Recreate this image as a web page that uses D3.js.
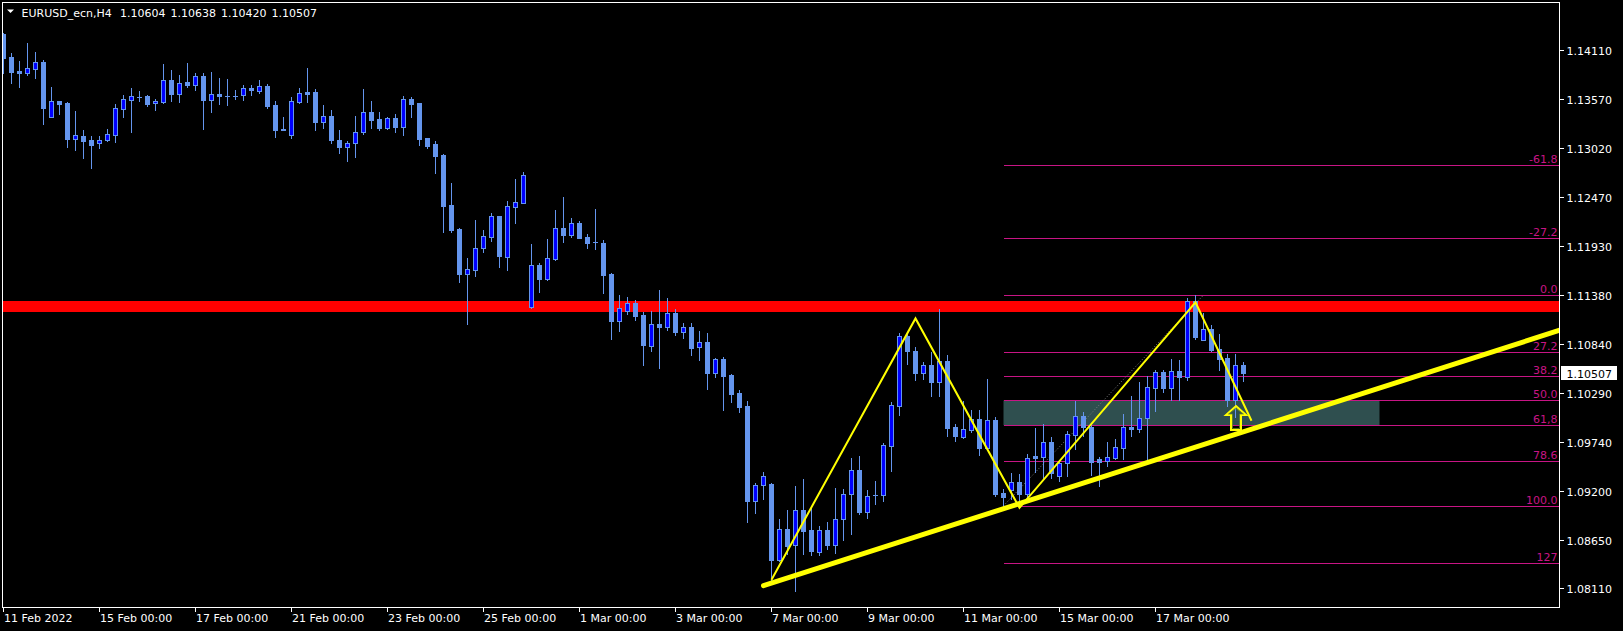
<!DOCTYPE html>
<html><head><meta charset="utf-8">
<script src="https://cdn.jsdelivr.net/npm/d3@7"></script>
<style>html,body{margin:0;padding:0;background:#000;overflow:hidden}svg{display:block}</style>
</head><body>
<svg id="chart" width="1623" height="631"></svg>
<script>
// ---- data (EURUSD_ecn H4, bar index 0 = 11 Feb 2022 00:00) ----
const opens = [1.14295,1.14035,1.13881,1.13860,1.13907,1.13980,1.13369,1.13544,1.13527,1.13126,1.13156,1.13109,1.13071,1.13105,1.13169,1.13459,1.13561,1.13587,1.13600,1.13519,
1.13536,1.13779,1.13625,1.13762,1.13728,1.13822,1.13561,1.13625,1.13600,1.13598,1.13608,1.13689,1.13660,1.13711,1.13502,1.13226,1.13160,1.13536,1.13647,1.13647,
1.13305,1.13378,1.13109,1.13036,1.13071,1.13203,1.13420,1.13344,1.13246,1.13356,1.13258,1.13566,1.13523,1.13130,1.13066,1.12947,1.12383,1.12119,1.11619,1.11662,
1.11901,1.12033,1.12264,1.11807,1.12366,1.12409,1.11248,1.11713,1.11560,1.11782,1.12127,1.12055,1.12183,1.12029,1.11967,1.11961,1.11615,1.11094,1.11197,1.11291,
1.11163,1.10817,1.11056,1.11026,1.11180,1.10971,1.11022,1.10796,1.10860,1.10514,1.10668,1.10488,1.10288,1.10147,1.09088,1.09259,1.09272,1.08431,1.08768,1.08589,
1.08982,1.08760,1.08512,1.08760,1.08598,1.08879,1.09157,1.09430,1.08965,1.09150,1.09153,1.09699,1.10147,1.10924,1.10753,1.10514,1.10595,1.10416,1.10642,1.09904,
1.09801,1.09874,1.09998,1.09677,1.09985,1.09174,1.09208,1.09293,1.09165,1.09584,1.09579,1.09737,1.09366,1.09507,1.09818,1.10036,1.09912,1.09549,1.09532,1.09567,
1.09677,1.09912,1.09891,1.10006,1.10348,1.10523,1.10348,1.10531,1.10463,1.11312,1.10881,1.11001,1.10779,1.10676,1.10211,1.10604];
const highs = [1.14308,1.14078,1.13992,1.14193,1.14091,1.14001,1.13702,1.13548,1.13536,1.13433,1.13220,1.13156,1.13156,1.13233,1.13510,1.13613,1.13689,1.13655,1.13608,1.13566,
1.13958,1.13890,1.13834,1.13967,1.13852,1.13856,1.13869,1.13800,1.13792,1.13672,1.13724,1.13724,1.13779,1.13732,1.13540,1.13365,1.13591,1.13689,1.13911,1.13677,
1.13502,1.13446,1.13216,1.13100,1.13382,1.13677,1.13544,1.13420,1.13365,1.13403,1.13600,1.13591,1.13523,1.13130,1.13100,1.12955,1.12631,1.12127,1.11794,1.12217,
1.12110,1.12298,1.12264,1.12430,1.12674,1.12755,1.11948,1.11743,1.12004,1.12328,1.12473,1.12238,1.12204,1.12059,1.12341,1.11995,1.11628,1.11380,1.11359,1.11325,
1.11193,1.11201,1.11436,1.11346,1.11222,1.11073,1.11069,1.10979,1.10958,1.10680,1.10689,1.10505,1.10322,1.10198,1.09285,1.09409,1.09285,1.08888,1.08982,1.09251,
1.09332,1.09003,1.08802,1.08849,1.09229,1.09217,1.09558,1.09584,1.09204,1.09302,1.09733,1.10185,1.10958,1.10958,1.10796,1.10629,1.10740,1.11222,1.10710,1.09946,
1.10194,1.10104,1.10100,1.10446,1.10019,1.09221,1.09396,1.09387,1.09609,1.09899,1.09942,1.09801,1.09537,1.09861,1.10202,1.10074,1.09942,1.09579,1.09742,1.09776,
1.10057,1.10254,1.10416,1.10476,1.10540,1.10540,1.10672,1.10659,1.11346,1.11380,1.11180,1.11043,1.10945,1.10723,1.10723,1.10638];
const lows = [1.13860,1.13745,1.13702,1.13839,1.13800,1.13288,1.13365,1.13399,1.13032,1.12998,1.12913,1.12802,1.13015,1.13100,1.13088,1.13361,1.13199,1.13549,1.13489,1.13446,
1.13527,1.13544,1.13531,1.13702,1.13668,1.13233,1.13425,1.13510,1.13502,1.13570,1.13561,1.13617,1.13638,1.13472,1.13147,1.13216,1.13135,1.13527,1.13531,1.13216,
1.13246,1.13071,1.12968,1.12878,1.12925,1.13177,1.13241,1.13224,1.13237,1.13199,1.13160,1.13369,1.13053,1.13015,1.12746,1.12089,1.12089,1.11530,1.11060,1.11598,
1.11863,1.11982,1.11696,1.11662,1.12187,1.12405,1.11235,1.11419,1.11543,1.11773,1.11974,1.12029,1.12018,1.11910,1.11897,1.11406,1.10890,1.10979,1.11171,1.11103,
1.10595,1.10762,1.10565,1.10996,1.10936,1.10907,1.10715,1.10651,1.10330,1.10471,1.10104,1.10190,1.10079,1.08854,1.08952,1.09101,1.08205,1.08418,1.08495,1.08080,
1.08495,1.08482,1.08482,1.08551,1.08504,1.08653,1.08717,1.08943,1.08896,1.09054,1.09088,1.09413,1.10045,1.10616,1.10437,1.10446,1.10258,1.10258,1.09805,1.09754,
1.09784,1.09857,1.09601,1.09669,1.09135,1.09030,1.09101,1.09080,1.09123,1.09404,1.09336,1.09336,1.09302,1.09366,1.09669,1.09805,1.09379,1.09251,1.09473,1.09554,
1.09549,1.09805,1.09857,1.09528,1.10083,1.10296,1.10211,1.10211,1.10437,1.10894,1.10881,1.10757,1.10544,1.10147,1.10019,1.10420];
const closes = [1.14022,1.13873,1.13860,1.13911,1.13980,1.13467,1.13544,1.13514,1.13126,1.13164,1.13100,1.13058,1.13109,1.13177,1.13467,1.13566,1.13600,1.13585,1.13510,1.13544,
1.13779,1.13625,1.13745,1.13724,1.13822,1.13557,1.13621,1.13600,1.13598,1.13602,1.13689,1.13664,1.13711,1.13489,1.13224,1.13229,1.13540,1.13634,1.13625,1.13305,
1.13374,1.13113,1.13036,1.13075,1.13194,1.13420,1.13335,1.13246,1.13356,1.13254,1.13566,1.13514,1.13126,1.13045,1.12934,1.12379,1.12106,1.11619,1.11671,1.11901,
1.12038,1.12264,1.11820,1.12375,1.12413,1.12721,1.11713,1.11560,1.11790,1.12127,1.12055,1.12183,1.12021,1.11965,1.11970,1.11607,1.11094,1.11231,1.11291,1.11146,
1.10821,1.11056,1.11026,1.11180,1.10971,1.11022,1.10791,1.10860,1.10514,1.10668,1.10480,1.10275,1.10134,1.09088,1.09259,1.09357,1.08431,1.08768,1.08581,1.08982,
1.08751,1.08525,1.08760,1.08598,1.08879,1.09161,1.09430,1.08960,1.09144,1.09153,1.09707,1.10156,1.10924,1.10753,1.10514,1.10595,1.10416,1.10642,1.09899,1.09814,
1.09887,1.09993,1.09677,1.09985,1.09165,1.09123,1.09293,1.09165,1.09562,1.09558,1.09737,1.09400,1.09507,1.09827,1.10036,1.09912,1.09515,1.09515,1.09571,1.09686,
1.09904,1.09891,1.10006,1.10352,1.10523,1.10348,1.10531,1.10463,1.11312,1.10915,1.11001,1.10770,1.10672,1.10211,1.10604,1.10507];

const timeLabels = ["11 Feb 2022","15 Feb 00:00","17 Feb 00:00","21 Feb 00:00","23 Feb 00:00","25 Feb 00:00","1 Mar 00:00","3 Mar 00:00","7 Mar 00:00","9 Mar 00:00","11 Mar 00:00","15 Mar 00:00","17 Mar 00:00"];
const timeLabelBars = [0,12,24,36,48,60,72,84,96,108,120,132,144];
const priceTicks = ["1.14110","1.13570","1.13020","1.12470","1.11930","1.11380","1.10840","1.10290","1.09740","1.09200","1.08650","1.08110"];

// objects on the chart
const resistancePrice = 1.11253;
const fibAnchor = {bar0: 125, low: 1.09030, bar1: 150, high: 1.11380};
const fibLevels = [-61.8, -27.2, 0, 27.2, 38.2, 50, 61.8, 78.6, 100, 127];
const fibLabels = ["-61.8","-27.2","0.0","27.2","38.2","50.0","61,8","78.6","100.0","127"];
const zoneBars = [125, 172];
const zoneLevels = [50, 61.8];
const trendBars = [95, 127];
const trendPrices = [1.08139, 1.09055];
const zigzagBars = [96, 114, 127, 149, 156];
const zigzagPrices = [1.08205, 1.11120, 1.09008, 1.11300, 1.09979];
const arrowBar = 154, arrowPrice = 1.10143;
const symbolName = "EURUSD_ecn,H4";

// ---- layout ----
const W = 1623, H = 631;
const plot = {l: 2.5, t: 2.5, r: 1559.5, b: 607.5};
const FONT = "DejaVu Sans, Verdana, sans-serif";
const svg = d3.select("#chart");
svg.append("rect").attr("width", W).attr("height", H).attr("fill", "#000");

const x = d3.scaleLinear().domain([0, 155]).range([3.5, 1243.5]);
const y = d3.scaleLinear().domain([1.08110, 1.14110]).range([588.3, 50.3]);

svg.append("defs").append("clipPath").attr("id", "clip")
  .append("rect").attr("x", plot.l + 0.5).attr("y", plot.t + 0.5)
  .attr("width", plot.r - plot.l - 1).attr("height", plot.b - plot.t - 1);

const g = svg.append("g").attr("clip-path", "url(#clip)");

// fib price helper
const fibPrice = lv => fibAnchor.high - lv / 100 * (fibAnchor.high - fibAnchor.low);

// zone rectangle
g.append("rect")
  .attr("x", x(zoneBars[0])).attr("width", x(zoneBars[1]) - x(zoneBars[0]))
  .attr("y", y(fibPrice(zoneLevels[0]))).attr("height", y(fibPrice(zoneLevels[1])) - y(fibPrice(zoneLevels[0])))
  .attr("fill", "#2F4F4F");

// fib levels
const fibG = g.append("g").attr("shape-rendering", "crispEdges");
fibG.selectAll("line").data(fibLevels).join("line")
  .attr("x1", x(fibAnchor.bar0)).attr("x2", plot.r)
  .attr("y1", d => Math.round(y(fibPrice(d))) + 0.5).attr("y2", d => Math.round(y(fibPrice(d))) + 0.5)
  .attr("stroke", "#C71585").attr("stroke-width", 1);
g.selectAll("text.fib").data(fibLevels).join("text").attr("class", "fib")
  .attr("x", plot.r - 2).attr("y", d => Math.round(y(fibPrice(d))) - 2.5)
  .attr("text-anchor", "end").attr("fill", "#C71585")
  .attr("font-family", FONT).attr("font-size", 11)
  .text((d, i) => fibLabels[i]);
g.append("line")
  .attr("x1", x(fibAnchor.bar0)).attr("y1", y(fibAnchor.low))
  .attr("x2", x(fibAnchor.bar1)).attr("y2", y(fibAnchor.high))
  .attr("stroke", "#808080").attr("stroke-width", 1).attr("stroke-dasharray", "1,2");

// resistance line
g.append("line").attr("x1", plot.l).attr("x2", plot.r)
  .attr("y1", y(resistancePrice)).attr("y2", y(resistancePrice))
  .attr("stroke", "#FF0000").attr("stroke-width", 11);

// candles
const UP_FILL = "#0000FF", CANDLE = "#6495ED";
const idx = d3.range(opens.length);
const cg = g.append("g").attr("shape-rendering", "crispEdges");
cg.selectAll("line.wick").data(idx).join("line").attr("class", "wick")
  .attr("x1", i => x(i)).attr("x2", i => x(i))
  .attr("y1", i => Math.round(y(highs[i]))).attr("y2", i => Math.round(y(lows[i])) + 1)
  .attr("stroke", CANDLE).attr("stroke-width", 1);
cg.selectAll("rect.body").data(idx).join("rect").attr("class", "body")
  .each(function(i) {
    const top = Math.round(y(Math.max(opens[i], closes[i])));
    const bot = Math.round(y(Math.min(opens[i], closes[i])));
    const h = Math.max(1, bot - top + 1);
    const up = closes[i] > opens[i];
    const r = d3.select(this);
    if (up && h > 2) {
      r.attr("x", x(i) - 2).attr("y", top + 0.5).attr("width", 4).attr("height", h - 1)
        .attr("fill", UP_FILL).attr("stroke", CANDLE).attr("stroke-width", 1);
    } else {
      r.attr("x", x(i) - 2.5).attr("y", top).attr("width", 5).attr("height", h)
        .attr("fill", CANDLE);
    }
  });

// trend line (ray to the right)
const slope = (trendPrices[1] - trendPrices[0]) / (trendBars[1] - trendBars[0]);
const endBar = x.invert(plot.r + 10);
g.append("line")
  .attr("x1", x(trendBars[0])).attr("y1", y(trendPrices[0]))
  .attr("x2", x(endBar)).attr("y2", y(trendPrices[0] + slope * (endBar - trendBars[0])))
  .attr("stroke", "#FFFF00").attr("stroke-width", 5).attr("stroke-linecap", "round");

// zigzag
g.append("path")
  .datum(zigzagBars.map((b, i) => [b, zigzagPrices[i]]))
  .attr("d", d3.line().x(d => x(d[0])).y(d => y(d[1])))
  .attr("fill", "none").attr("stroke", "#FFFF00").attr("stroke-width", 2);

// arrow
const ax = Math.round(x(arrowBar)) , ay = Math.round(y(arrowPrice));
g.append("path")
  .attr("transform", `translate(${ax},${ay})`)
  .attr("d", "M0,0 L10,9 L5,9 L5,24 L-5,24 L-5,9 L-10,9 Z")
  .attr("fill", "none").attr("stroke", "#FFFF00").attr("stroke-width", 2).attr("stroke-linejoin", "miter");
g.append("path")
  .attr("transform", `translate(${ax},${ay})`)
  .attr("d", "M0,2.5 L7.5,8 L3.5,8 L3.5,22.5 L-3.5,22.5 L-3.5,8 L-7.5,8 Z")
  .attr("fill", "none").attr("stroke", "#6B8E23").attr("stroke-width", 0.8);

// frame
svg.append("rect").attr("x", plot.l).attr("y", plot.t)
  .attr("width", plot.r - plot.l).attr("height", plot.b - plot.t)
  .attr("fill", "none").attr("stroke", "#FFFFFF").attr("stroke-width", 1)
  .attr("shape-rendering", "crispEdges");

// price axis
const pa = svg.append("g");
pa.selectAll("line").data(priceTicks).join("line")
  .attr("x1", plot.r).attr("x2", plot.r + 4)
  .attr("y1", d => Math.round(y(+d)) + 0.5).attr("y2", d => Math.round(y(+d)) + 0.5)
  .attr("stroke", "#FFFFFF").attr("shape-rendering", "crispEdges");
pa.selectAll("text").data(priceTicks).join("text")
  .attr("x", plot.r + 7).attr("y", d => Math.round(y(+d)) + 4.5)
  .attr("fill", "#FFFFFF").attr("font-family", FONT).attr("font-size", 11)
  .text(d => d);

// current price box
const last = closes[closes.length - 1];
const ly = Math.round(y(last));
svg.append("rect").attr("x", plot.r + 1.5).attr("y", ly - 7).attr("width", 56).attr("height", 14)
  .attr("fill", "#FFFFFF");
svg.append("text").attr("x", plot.r + 7).attr("y", ly + 4.5)
  .attr("fill", "#000000").attr("font-family", FONT).attr("font-size", 11)
  .text(last.toFixed(5));

// time axis
const ta = svg.append("g");
ta.selectAll("line").data(timeLabelBars).join("line")
  .attr("x1", d => x(d)).attr("x2", d => x(d))
  .attr("y1", plot.b).attr("y2", plot.b + 4)
  .attr("stroke", "#FFFFFF").attr("shape-rendering", "crispEdges");
ta.selectAll("text").data(timeLabelBars).join("text")
  .attr("x", d => x(d) + 0.5).attr("y", 622)
  .attr("fill", "#FFFFFF").attr("font-family", FONT).attr("font-size", 11)
  .text((d, i) => timeLabels[i]);

// header
const n = opens.length - 1;
svg.append("path").attr("d", "M7,9.5 L14,9.5 L10.5,13 Z").attr("fill", "#FFFFFF");
const hdr = svg.append("text").attr("y", 17).attr("fill", "#FFFFFF")
  .attr("font-family", FONT).attr("font-size", 11);
hdr.append("tspan").attr("x", 21.5).text(symbolName);
[opens[n], highs[n], lows[n], closes[n]].forEach((v, k) => {
  hdr.append("tspan").attr("x", 120 + k * 50.5).text(v.toFixed(5));
});
</script>
</body></html>
